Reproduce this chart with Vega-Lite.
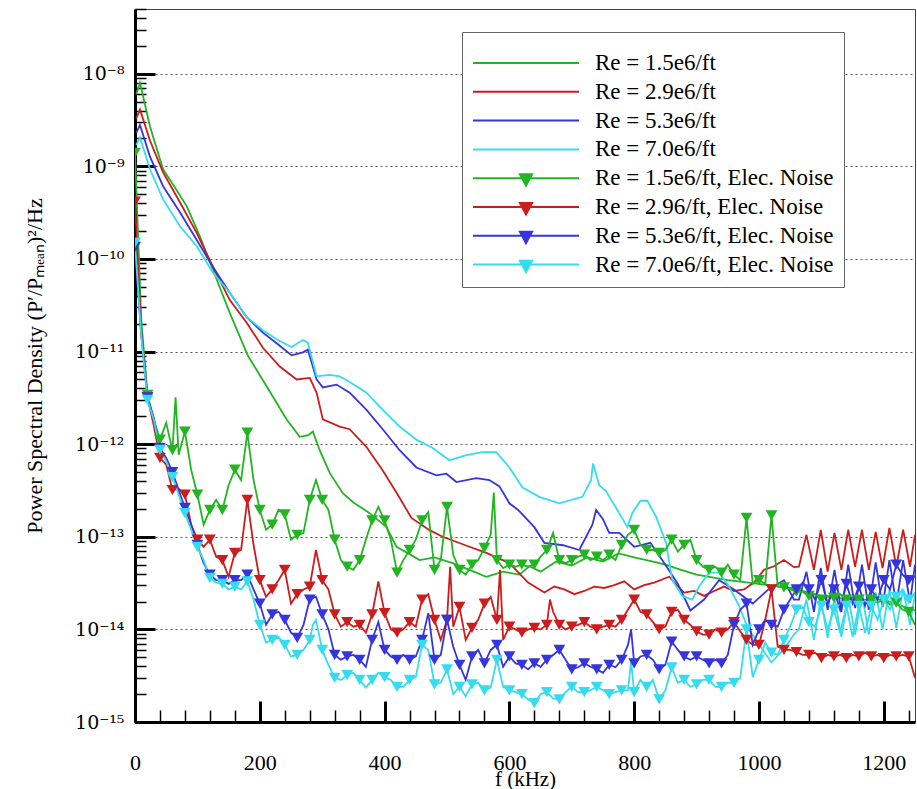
{
"$schema":"https://vega.github.io/schema/vega-lite/v6.json",
"width":780,"height":713,
"autosize":{"type":"none"},
"padding":{"left":135,"top":9,"right":2,"bottom":67},
"background":"white",
"config":{
 "font":"Liberation Serif",
 "view":{"stroke":"#444","strokeWidth":1},
 "axis":{"labelFont":"Liberation Serif","titleFont":"Liberation Serif","labelFontSize":22,"titleFontSize":22,"labelColor":"black","titleColor":"black","titleFontWeight":"normal","domainColor":"black","domainWidth":3,"tickColor":"black"}
},
"datasets":{
"sig":[
{"k":"G","f":2,"p":6e-9},{"k":"G","f":8,"p":8e-9},{"k":"G","f":24,"p":2.7e-9},{"k":"G","f":45,"p":9.3e-10},{"k":"G","f":64,"p":5.9e-10},{"k":"G","f":83,"p":3.7e-10},{"k":"G","f":104,"p":1.75e-10},{"k":"G","f":125,"p":7.6e-11},{"k":"G","f":152,"p":2.6e-11},{"k":"G","f":181,"p":9e-12},{"k":"G","f":216,"p":3.7e-12},{"k":"G","f":243,"p":1.85e-12},{"k":"G","f":264,"p":1.2e-12},{"k":"G","f":278,"p":1.25e-12},{"k":"G","f":285,"p":1.37e-12},{"k":"G","f":296,"p":8.6e-13},{"k":"G","f":312,"p":4.9e-13},{"k":"G","f":333,"p":2.95e-13},{"k":"G","f":350,"p":2.35e-13},{"k":"G","f":376,"p":1.8e-13},{"k":"G","f":403,"p":1.27e-13},{"k":"G","f":419,"p":7.8e-14},{"k":"G","f":440,"p":6.5e-14},{"k":"G","f":456,"p":5.6e-14},{"k":"G","f":480,"p":6e-14},{"k":"G","f":509,"p":5.2e-14},{"k":"G","f":536,"p":4.4e-14},{"k":"G","f":563,"p":3.7e-14},{"k":"G","f":590,"p":4.2e-14},{"k":"G","f":616,"p":3.9e-14},{"k":"G","f":632,"p":4.8e-14},{"k":"G","f":650,"p":4.2e-14},{"k":"G","f":675,"p":5.4e-14},{"k":"G","f":700,"p":4.9e-14},{"k":"G","f":725,"p":6e-14},{"k":"G","f":750,"p":5.4e-14},{"k":"G","f":775,"p":6.6e-14},{"k":"G","f":800,"p":6e-14},{"k":"G","f":825,"p":5.5e-14},{"k":"G","f":850,"p":5e-14},{"k":"G","f":875,"p":4.4e-14},{"k":"G","f":900,"p":3.9e-14},{"k":"G","f":950,"p":3.4e-14},{"k":"G","f":1000,"p":3.1e-14},{"k":"G","f":1050,"p":2.8e-14},{"k":"G","f":1100,"p":2.3e-14},{"k":"G","f":1150,"p":2.1e-14},{"k":"G","f":1200,"p":2.1e-14},{"k":"G","f":1250,"p":1.6e-14},
{"k":"R","f":2,"p":3.3e-9},{"k":"R","f":8,"p":4.1e-9},{"k":"R","f":24,"p":1.9e-9},{"k":"R","f":45,"p":8.6e-10},{"k":"R","f":72,"p":4.1e-10},{"k":"R","f":99,"p":1.9e-10},{"k":"R","f":125,"p":8.2e-11},{"k":"R","f":152,"p":3.6e-11},{"k":"R","f":179,"p":2.05e-11},{"k":"R","f":205,"p":1.1e-11},{"k":"R","f":232,"p":6.9e-12},{"k":"R","f":259,"p":5e-12},{"k":"R","f":280,"p":5.2e-12},{"k":"R","f":291,"p":3.6e-12},{"k":"R","f":301,"p":1.85e-12},{"k":"R","f":328,"p":1.55e-12},{"k":"R","f":344,"p":1.45e-12},{"k":"R","f":371,"p":9.3e-13},{"k":"R","f":397,"p":5.2e-13},{"k":"R","f":419,"p":3e-13},{"k":"R","f":443,"p":1.6e-13},{"k":"R","f":472,"p":1.18e-13},{"k":"R","f":493,"p":1e-13},{"k":"R","f":536,"p":7.8e-14},{"k":"R","f":563,"p":6.7e-14},{"k":"R","f":600,"p":5.2e-14},{"k":"R","f":630,"p":3.2e-14},{"k":"R","f":656,"p":2.5e-14},{"k":"R","f":672,"p":2.9e-14},{"k":"R","f":688,"p":2.7e-14},{"k":"R","f":704,"p":2.4e-14},{"k":"R","f":720,"p":2.6e-14},{"k":"R","f":736,"p":2.9e-14},{"k":"R","f":752,"p":2.8e-14},{"k":"R","f":768,"p":3e-14},{"k":"R","f":784,"p":3.3e-14},{"k":"R","f":800,"p":2.7e-14},{"k":"R","f":816,"p":3e-14},{"k":"R","f":832,"p":3.2e-14},{"k":"R","f":856,"p":3.7e-14},{"k":"R","f":868,"p":3e-14},{"k":"R","f":880,"p":2.5e-14},{"k":"R","f":896,"p":2.6e-14},{"k":"R","f":912,"p":2.3e-14},{"k":"R","f":928,"p":2.6e-14},{"k":"R","f":944,"p":2.9e-14},{"k":"R","f":960,"p":2.6e-14},{"k":"R","f":976,"p":2.7e-14},{"k":"R","f":992,"p":3.2e-14},{"k":"R","f":1008,"p":4.4e-14},{"k":"R","f":1024,"p":4.8e-14},{"k":"R","f":1040,"p":5.6e-14},{"k":"R","f":1056,"p":4.7e-14},{"k":"R","f":1064,"p":4.75e-14},{"k":"R","f":1076,"p":1.05e-13},{"k":"R","f":1088,"p":4.4e-14},{"k":"R","f":1099,"p":1.19e-13},{"k":"R","f":1110,"p":4.2e-14},{"k":"R","f":1121,"p":1.1e-13},{"k":"R","f":1132,"p":4.4e-14},{"k":"R","f":1143,"p":1.19e-13},{"k":"R","f":1154,"p":4.75e-14},{"k":"R","f":1165,"p":1.19e-13},{"k":"R","f":1176,"p":4.4e-14},{"k":"R","f":1187,"p":1.13e-13},{"k":"R","f":1198,"p":4.6e-14},{"k":"R","f":1209,"p":1.25e-13},{"k":"R","f":1220,"p":4.75e-14},{"k":"R","f":1231,"p":1.19e-13},{"k":"R","f":1242,"p":4.75e-14},{"k":"R","f":1250,"p":1.05e-13},
{"k":"B","f":2,"p":2.3e-9},{"k":"B","f":8,"p":2.8e-9},{"k":"B","f":24,"p":1.27e-9},{"k":"B","f":45,"p":6.1e-10},{"k":"B","f":72,"p":3.2e-10},{"k":"B","f":99,"p":1.6e-10},{"k":"B","f":125,"p":8.2e-11},{"k":"B","f":152,"p":4.3e-11},{"k":"B","f":179,"p":2.35e-11},{"k":"B","f":205,"p":1.6e-11},{"k":"B","f":229,"p":1.2e-11},{"k":"B","f":251,"p":9.1e-12},{"k":"B","f":269,"p":9.8e-12},{"k":"B","f":277,"p":1.05e-11},{"k":"B","f":291,"p":5e-12},{"k":"B","f":301,"p":4.1e-12},{"k":"B","f":323,"p":4.4e-12},{"k":"B","f":344,"p":3.6e-12},{"k":"B","f":371,"p":2.35e-12},{"k":"B","f":397,"p":1.45e-12},{"k":"B","f":424,"p":8.6e-13},{"k":"B","f":451,"p":5.6e-13},{"k":"B","f":483,"p":4.6e-13},{"k":"B","f":499,"p":4.8e-13},{"k":"B","f":515,"p":3.9e-13},{"k":"B","f":547,"p":4.3e-13},{"k":"B","f":568,"p":4.1e-13},{"k":"B","f":584,"p":3.5e-13},{"k":"B","f":600,"p":2.3e-13},{"k":"B","f":614,"p":1.95e-13},{"k":"B","f":640,"p":1.27e-13},{"k":"B","f":656,"p":8.6e-14},{"k":"B","f":686,"p":8.1e-14},{"k":"B","f":712,"p":7.2e-14},{"k":"B","f":733,"p":1.35e-13},{"k":"B","f":739,"p":1.95e-13},{"k":"B","f":750,"p":1.55e-13},{"k":"B","f":760,"p":1.1e-13},{"k":"B","f":776,"p":1.1e-13},{"k":"B","f":800,"p":7.8e-14},{"k":"B","f":826,"p":8.6e-14},{"k":"B","f":850,"p":5e-14},{"k":"B","f":870,"p":3.1e-14},{"k":"B","f":890,"p":1.6e-14},{"k":"B","f":912,"p":2.1e-14},{"k":"B","f":936,"p":3.4e-14},{"k":"B","f":960,"p":2.7e-14},{"k":"B","f":990,"p":1.9e-14},{"k":"B","f":1015,"p":2.7e-14},{"k":"B","f":1040,"p":3.4e-14},{"k":"B","f":1056,"p":2.1e-14},{"k":"B","f":1064,"p":2.1e-14},{"k":"B","f":1076,"p":4.2e-14},{"k":"B","f":1088,"p":1.55e-14},{"k":"B","f":1099,"p":4.6e-14},{"k":"B","f":1110,"p":1.63e-14},{"k":"B","f":1121,"p":4.4e-14},{"k":"B","f":1132,"p":1.55e-14},{"k":"B","f":1143,"p":5e-14},{"k":"B","f":1154,"p":1.7e-14},{"k":"B","f":1165,"p":5e-14},{"k":"B","f":1176,"p":1.63e-14},{"k":"B","f":1187,"p":5.3e-14},{"k":"B","f":1198,"p":1.75e-14},{"k":"B","f":1209,"p":5.6e-14},{"k":"B","f":1220,"p":1.85e-14},{"k":"B","f":1231,"p":5.6e-14},{"k":"B","f":1242,"p":1.95e-14},{"k":"B","f":1250,"p":5e-14},
{"k":"C","f":2,"p":1.7e-9},{"k":"C","f":8,"p":2.05e-9},{"k":"C","f":24,"p":9.3e-10},{"k":"C","f":45,"p":4.4e-10},{"k":"C","f":72,"p":2.25e-10},{"k":"C","f":99,"p":1.37e-10},{"k":"C","f":125,"p":7.1e-11},{"k":"C","f":152,"p":4.3e-11},{"k":"C","f":179,"p":2.35e-11},{"k":"C","f":205,"p":1.7e-11},{"k":"C","f":229,"p":1.33e-11},{"k":"C","f":251,"p":1.12e-11},{"k":"C","f":269,"p":1.33e-11},{"k":"C","f":277,"p":1.25e-11},{"k":"C","f":291,"p":5.4e-12},{"k":"C","f":312,"p":5.6e-12},{"k":"C","f":328,"p":5.4e-12},{"k":"C","f":344,"p":4.7e-12},{"k":"C","f":371,"p":3.6e-12},{"k":"C","f":397,"p":2.35e-12},{"k":"C","f":424,"p":1.55e-12},{"k":"C","f":451,"p":1.12e-12},{"k":"C","f":477,"p":9.1e-13},{"k":"C","f":504,"p":6.7e-13},{"k":"C","f":531,"p":7.6e-13},{"k":"C","f":557,"p":8.2e-13},{"k":"C","f":579,"p":8.2e-13},{"k":"C","f":600,"p":5.6e-13},{"k":"C","f":621,"p":3.4e-13},{"k":"C","f":648,"p":2.7e-13},{"k":"C","f":680,"p":2.3e-13},{"k":"C","f":717,"p":2.7e-13},{"k":"C","f":731,"p":4.1e-13},{"k":"C","f":734,"p":6.2e-13},{"k":"C","f":744,"p":3.6e-13},{"k":"C","f":755,"p":3.1e-13},{"k":"C","f":776,"p":1.8e-13},{"k":"C","f":789,"p":1.27e-13},{"k":"C","f":797,"p":1.8e-13},{"k":"C","f":810,"p":2.45e-13},{"k":"C","f":821,"p":2.45e-13},{"k":"C","f":835,"p":1.65e-13},{"k":"C","f":851,"p":8.6e-14},{"k":"C","f":861,"p":3.4e-14},{"k":"C","f":877,"p":2.3e-14},{"k":"C","f":893,"p":2.1e-14},{"k":"C","f":904,"p":2.9e-14},{"k":"C","f":920,"p":4.1e-14},{"k":"C","f":936,"p":4.1e-14},{"k":"C","f":952,"p":2.9e-14},{"k":"C","f":968,"p":1.8e-14},{"k":"C","f":981,"p":1.07e-14},{"k":"C","f":1000,"p":6.9e-15},{"k":"C","f":1020,"p":4.4e-15},{"k":"C","f":1040,"p":6.1e-15},{"k":"C","f":1056,"p":8.8e-15},{"k":"C","f":1064,"p":1e-14},{"k":"C","f":1076,"p":2.1e-14},{"k":"C","f":1088,"p":7.7e-15},{"k":"C","f":1099,"p":2.1e-14},{"k":"C","f":1110,"p":8.1e-15},{"k":"C","f":1121,"p":2.2e-14},{"k":"C","f":1132,"p":8.3e-15},{"k":"C","f":1143,"p":2.25e-14},{"k":"C","f":1154,"p":8.8e-15},{"k":"C","f":1165,"p":2.4e-14},{"k":"C","f":1176,"p":8.8e-15},{"k":"C","f":1187,"p":2.5e-14},{"k":"C","f":1198,"p":1e-14},{"k":"C","f":1209,"p":2.7e-14},{"k":"C","f":1220,"p":1.04e-14},{"k":"C","f":1231,"p":2.7e-14},{"k":"C","f":1242,"p":1.12e-14},{"k":"C","f":1250,"p":2.4e-14}
],
"noise":[
{"k":"GN","f":0,"p":1.4e-9},{"k":"GN","f":10,"p":2.2e-11},{"k":"GN","f":20,"p":3.4e-12},{"k":"GN","f":30,"p":1.85e-12},{"k":"GN","f":40,"p":1.12e-12},{"k":"GN","f":50,"p":1.7e-12},{"k":"GN","f":60,"p":8.6e-13},{"k":"GN","f":65,"p":3.2e-12},{"k":"GN","f":70,"p":7.7e-13},{"k":"GN","f":80,"p":1.37e-12},{"k":"GN","f":90,"p":5.3e-13},{"k":"GN","f":100,"p":2.85e-13},{"k":"GN","f":110,"p":1.35e-13},{"k":"GN","f":120,"p":1.95e-13},{"k":"GN","f":130,"p":2.5e-13},{"k":"GN","f":140,"p":1.95e-13},{"k":"GN","f":150,"p":3.6e-13},{"k":"GN","f":160,"p":5.3e-13},{"k":"GN","f":170,"p":4.1e-13},{"k":"GN","f":180,"p":1.33e-12},{"k":"GN","f":190,"p":4.1e-13},{"k":"GN","f":200,"p":1.95e-13},{"k":"GN","f":210,"p":1.19e-13},{"k":"GN","f":220,"p":1.35e-13},{"k":"GN","f":230,"p":1.95e-13},{"k":"GN","f":240,"p":1.75e-13},{"k":"GN","f":250,"p":9.3e-14},{"k":"GN","f":260,"p":1.05e-13},{"k":"GN","f":270,"p":1.1e-13},{"k":"GN","f":280,"p":2.5e-13},{"k":"GN","f":290,"p":4.1e-13},{"k":"GN","f":300,"p":2.5e-13},{"k":"GN","f":310,"p":1.95e-13},{"k":"GN","f":320,"p":9.3e-14},{"k":"GN","f":330,"p":5.6e-14},{"k":"GN","f":340,"p":4.75e-14},{"k":"GN","f":350,"p":4.4e-14},{"k":"GN","f":360,"p":5.6e-14},{"k":"GN","f":370,"p":9.3e-14},{"k":"GN","f":380,"p":1.5e-13},{"k":"GN","f":390,"p":2.1e-13},{"k":"GN","f":400,"p":1.5e-13},{"k":"GN","f":410,"p":9.3e-14},{"k":"GN","f":420,"p":4.1e-14},{"k":"GN","f":430,"p":5.6e-14},{"k":"GN","f":440,"p":7.2e-14},{"k":"GN","f":450,"p":9.3e-14},{"k":"GN","f":460,"p":1.5e-13},{"k":"GN","f":470,"p":1.85e-13},{"k":"GN","f":480,"p":4.4e-14},{"k":"GN","f":490,"p":5.6e-14},{"k":"GN","f":500,"p":2.1e-13},{"k":"GN","f":510,"p":6.4e-14},{"k":"GN","f":520,"p":4.4e-14},{"k":"GN","f":530,"p":3.9e-14},{"k":"GN","f":540,"p":5e-14},{"k":"GN","f":550,"p":5.6e-14},{"k":"GN","f":560,"p":7.6e-14},{"k":"GN","f":570,"p":1.05e-13},{"k":"GN","f":575,"p":3e-13},{"k":"GN","f":580,"p":5.6e-14},{"k":"GN","f":590,"p":4.6e-14},{"k":"GN","f":600,"p":5e-14},{"k":"GN","f":610,"p":4.75e-14},{"k":"GN","f":620,"p":5e-14},{"k":"GN","f":630,"p":4.75e-14},{"k":"GN","f":640,"p":5e-14},{"k":"GN","f":650,"p":6.1e-14},{"k":"GN","f":660,"p":7.2e-14},{"k":"GN","f":670,"p":1.1e-13},{"k":"GN","f":680,"p":5.6e-14},{"k":"GN","f":690,"p":5.2e-14},{"k":"GN","f":700,"p":5.6e-14},{"k":"GN","f":710,"p":6.1e-14},{"k":"GN","f":720,"p":6.4e-14},{"k":"GN","f":730,"p":5.6e-14},{"k":"GN","f":740,"p":6.1e-14},{"k":"GN","f":750,"p":5.6e-14},{"k":"GN","f":760,"p":6.4e-14},{"k":"GN","f":770,"p":5.6e-14},{"k":"GN","f":780,"p":8.2e-14},{"k":"GN","f":790,"p":1.05e-13},{"k":"GN","f":800,"p":1.19e-13},{"k":"GN","f":810,"p":8.2e-14},{"k":"GN","f":820,"p":7.2e-14},{"k":"GN","f":830,"p":7.2e-14},{"k":"GN","f":840,"p":6.7e-14},{"k":"GN","f":850,"p":7.2e-14},{"k":"GN","f":860,"p":9.3e-14},{"k":"GN","f":870,"p":6.9e-14},{"k":"GN","f":880,"p":8.2e-14},{"k":"GN","f":890,"p":9.3e-14},{"k":"GN","f":900,"p":5.6e-14},{"k":"GN","f":910,"p":4.75e-14},{"k":"GN","f":920,"p":4.4e-14},{"k":"GN","f":930,"p":4.75e-14},{"k":"GN","f":940,"p":4.1e-14},{"k":"GN","f":950,"p":5e-14},{"k":"GN","f":960,"p":3.9e-14},{"k":"GN","f":970,"p":3.4e-14},{"k":"GN","f":980,"p":1.6e-13},{"k":"GN","f":990,"p":3.1e-14},{"k":"GN","f":1000,"p":3.4e-14},{"k":"GN","f":1010,"p":3.1e-14},{"k":"GN","f":1020,"p":1.7e-13},{"k":"GN","f":1030,"p":2.9e-14},{"k":"GN","f":1040,"p":2.85e-14},{"k":"GN","f":1050,"p":2.7e-14},{"k":"GN","f":1060,"p":2.55e-14},{"k":"GN","f":1070,"p":2.55e-14},{"k":"GN","f":1080,"p":2.3e-14},{"k":"GN","f":1090,"p":2.4e-14},{"k":"GN","f":1100,"p":2.1e-14},{"k":"GN","f":1110,"p":2.3e-14},{"k":"GN","f":1120,"p":2.2e-14},{"k":"GN","f":1130,"p":2.4e-14},{"k":"GN","f":1140,"p":2.1e-14},{"k":"GN","f":1150,"p":2.2e-14},{"k":"GN","f":1160,"p":2.1e-14},{"k":"GN","f":1170,"p":1.95e-14},{"k":"GN","f":1180,"p":2.1e-14},{"k":"GN","f":1190,"p":1.95e-14},{"k":"GN","f":1200,"p":2.1e-14},{"k":"GN","f":1210,"p":1.85e-14},{"k":"GN","f":1220,"p":1.95e-14},{"k":"GN","f":1230,"p":1.63e-14},{"k":"GN","f":1240,"p":1.55e-14},{"k":"GN","f":1250,"p":1.12e-14},
{"k":"RN","f":0,"p":4.15e-10},{"k":"RN","f":10,"p":1.72e-11},{"k":"RN","f":20,"p":3.2e-12},{"k":"RN","f":30,"p":1.6e-12},{"k":"RN","f":40,"p":7.1e-13},{"k":"RN","f":50,"p":6e-13},{"k":"RN","f":60,"p":3.2e-13},{"k":"RN","f":70,"p":3.3e-13},{"k":"RN","f":80,"p":2.85e-13},{"k":"RN","f":90,"p":1.35e-13},{"k":"RN","f":100,"p":9.3e-14},{"k":"RN","f":110,"p":7.8e-14},{"k":"RN","f":120,"p":9.3e-14},{"k":"RN","f":130,"p":6.1e-14},{"k":"RN","f":140,"p":5.6e-14},{"k":"RN","f":150,"p":3.7e-14},{"k":"RN","f":160,"p":6.7e-14},{"k":"RN","f":170,"p":7.2e-14},{"k":"RN","f":180,"p":2.5e-13},{"k":"RN","f":190,"p":8.2e-14},{"k":"RN","f":200,"p":3.4e-14},{"k":"RN","f":210,"p":2.25e-14},{"k":"RN","f":220,"p":2.7e-14},{"k":"RN","f":230,"p":3.4e-14},{"k":"RN","f":240,"p":4.4e-14},{"k":"RN","f":250,"p":1.9e-14},{"k":"RN","f":260,"p":2.4e-14},{"k":"RN","f":270,"p":2.7e-14},{"k":"RN","f":280,"p":2.9e-14},{"k":"RN","f":290,"p":7.2e-14},{"k":"RN","f":300,"p":3.4e-14},{"k":"RN","f":310,"p":2.7e-14},{"k":"RN","f":320,"p":1.45e-14},{"k":"RN","f":330,"p":1.07e-14},{"k":"RN","f":340,"p":1.2e-14},{"k":"RN","f":350,"p":1.07e-14},{"k":"RN","f":360,"p":1.12e-14},{"k":"RN","f":370,"p":9.2e-15},{"k":"RN","f":380,"p":1.45e-14},{"k":"RN","f":390,"p":3.3e-14},{"k":"RN","f":400,"p":1.5e-14},{"k":"RN","f":410,"p":1e-14},{"k":"RN","f":420,"p":9.2e-15},{"k":"RN","f":430,"p":1e-14},{"k":"RN","f":440,"p":1.2e-14},{"k":"RN","f":450,"p":1.07e-14},{"k":"RN","f":460,"p":2.1e-14},{"k":"RN","f":470,"p":2.4e-14},{"k":"RN","f":480,"p":1.27e-14},{"k":"RN","f":490,"p":7.7e-15},{"k":"RN","f":500,"p":1.27e-14},{"k":"RN","f":505,"p":4.75e-14},{"k":"RN","f":510,"p":1.07e-14},{"k":"RN","f":520,"p":1.75e-14},{"k":"RN","f":530,"p":7.7e-15},{"k":"RN","f":540,"p":1.04e-14},{"k":"RN","f":550,"p":1.27e-14},{"k":"RN","f":560,"p":1.9e-14},{"k":"RN","f":570,"p":2.25e-14},{"k":"RN","f":580,"p":1.27e-14},{"k":"RN","f":585,"p":4.4e-14},{"k":"RN","f":590,"p":7.7e-15},{"k":"RN","f":600,"p":1.07e-14},{"k":"RN","f":610,"p":1e-14},{"k":"RN","f":620,"p":9.2e-15},{"k":"RN","f":630,"p":1e-14},{"k":"RN","f":640,"p":1.04e-14},{"k":"RN","f":650,"p":1e-14},{"k":"RN","f":660,"p":1.12e-14},{"k":"RN","f":665,"p":2.1e-14},{"k":"RN","f":670,"p":1.55e-14},{"k":"RN","f":680,"p":1.12e-14},{"k":"RN","f":690,"p":1e-14},{"k":"RN","f":700,"p":1.07e-14},{"k":"RN","f":710,"p":1.12e-14},{"k":"RN","f":720,"p":1.2e-14},{"k":"RN","f":730,"p":1.07e-14},{"k":"RN","f":740,"p":1e-14},{"k":"RN","f":750,"p":1.07e-14},{"k":"RN","f":760,"p":1.12e-14},{"k":"RN","f":770,"p":1.07e-14},{"k":"RN","f":780,"p":1.27e-14},{"k":"RN","f":790,"p":1.63e-14},{"k":"RN","f":800,"p":2.1e-14},{"k":"RN","f":810,"p":1.55e-14},{"k":"RN","f":820,"p":1.45e-14},{"k":"RN","f":830,"p":1.2e-14},{"k":"RN","f":840,"p":1e-14},{"k":"RN","f":850,"p":1.07e-14},{"k":"RN","f":860,"p":1.55e-14},{"k":"RN","f":870,"p":1.63e-14},{"k":"RN","f":880,"p":1.27e-14},{"k":"RN","f":890,"p":1.12e-14},{"k":"RN","f":900,"p":9.5e-15},{"k":"RN","f":910,"p":8.8e-15},{"k":"RN","f":920,"p":8.8e-15},{"k":"RN","f":930,"p":1e-14},{"k":"RN","f":940,"p":9.2e-15},{"k":"RN","f":950,"p":1e-14},{"k":"RN","f":960,"p":1.2e-14},{"k":"RN","f":970,"p":9.5e-15},{"k":"RN","f":980,"p":7.7e-15},{"k":"RN","f":990,"p":6.8e-15},{"k":"RN","f":1000,"p":6.8e-15},{"k":"RN","f":1010,"p":1.27e-14},{"k":"RN","f":1020,"p":2.7e-14},{"k":"RN","f":1030,"p":6.5e-15},{"k":"RN","f":1040,"p":6e-15},{"k":"RN","f":1050,"p":6e-15},{"k":"RN","f":1060,"p":5.7e-15},{"k":"RN","f":1070,"p":5.3e-15},{"k":"RN","f":1080,"p":5.3e-15},{"k":"RN","f":1090,"p":5.6e-15},{"k":"RN","f":1100,"p":4.9e-15},{"k":"RN","f":1110,"p":5.3e-15},{"k":"RN","f":1120,"p":5.1e-15},{"k":"RN","f":1130,"p":5.3e-15},{"k":"RN","f":1140,"p":4.9e-15},{"k":"RN","f":1150,"p":5.3e-15},{"k":"RN","f":1160,"p":5.1e-15},{"k":"RN","f":1170,"p":5.6e-15},{"k":"RN","f":1180,"p":5.1e-15},{"k":"RN","f":1190,"p":5.3e-15},{"k":"RN","f":1200,"p":4.9e-15},{"k":"RN","f":1210,"p":5.3e-15},{"k":"RN","f":1220,"p":5.1e-15},{"k":"RN","f":1230,"p":5.3e-15},{"k":"RN","f":1240,"p":5.1e-15},{"k":"RN","f":1250,"p":3e-15},
{"k":"BN","f":0,"p":1.35e-10},{"k":"BN","f":10,"p":1.5e-11},{"k":"BN","f":20,"p":3.2e-12},{"k":"BN","f":30,"p":1.94e-12},{"k":"BN","f":40,"p":9.1e-13},{"k":"BN","f":50,"p":7.1e-13},{"k":"BN","f":60,"p":5e-13},{"k":"BN","f":70,"p":3.2e-13},{"k":"BN","f":80,"p":2.05e-13},{"k":"BN","f":90,"p":1.35e-13},{"k":"BN","f":100,"p":8.2e-14},{"k":"BN","f":110,"p":5.2e-14},{"k":"BN","f":120,"p":3.9e-14},{"k":"BN","f":130,"p":3.4e-14},{"k":"BN","f":140,"p":3.4e-14},{"k":"BN","f":150,"p":3.1e-14},{"k":"BN","f":160,"p":3.4e-14},{"k":"BN","f":170,"p":3.4e-14},{"k":"BN","f":180,"p":3.9e-14},{"k":"BN","f":190,"p":2.7e-14},{"k":"BN","f":200,"p":1.9e-14},{"k":"BN","f":210,"p":1.12e-14},{"k":"BN","f":220,"p":1.45e-14},{"k":"BN","f":230,"p":1.55e-14},{"k":"BN","f":240,"p":1.27e-14},{"k":"BN","f":250,"p":9.2e-15},{"k":"BN","f":260,"p":8.1e-15},{"k":"BN","f":270,"p":1.12e-14},{"k":"BN","f":280,"p":2.1e-14},{"k":"BN","f":290,"p":2.25e-14},{"k":"BN","f":300,"p":1.45e-14},{"k":"BN","f":310,"p":1e-14},{"k":"BN","f":320,"p":5.3e-15},{"k":"BN","f":330,"p":4.7e-15},{"k":"BN","f":340,"p":5.1e-15},{"k":"BN","f":350,"p":5.3e-15},{"k":"BN","f":360,"p":4.7e-15},{"k":"BN","f":370,"p":3.95e-15},{"k":"BN","f":380,"p":7.7e-15},{"k":"BN","f":390,"p":1.2e-14},{"k":"BN","f":400,"p":6e-15},{"k":"BN","f":410,"p":5.1e-15},{"k":"BN","f":420,"p":4.7e-15},{"k":"BN","f":430,"p":5.3e-15},{"k":"BN","f":440,"p":4.7e-15},{"k":"BN","f":450,"p":5.1e-15},{"k":"BN","f":460,"p":7.7e-15},{"k":"BN","f":470,"p":1.5e-14},{"k":"BN","f":480,"p":4.7e-15},{"k":"BN","f":490,"p":5.3e-15},{"k":"BN","f":500,"p":1.27e-14},{"k":"BN","f":510,"p":6.5e-15},{"k":"BN","f":520,"p":4.15e-15},{"k":"BN","f":530,"p":2.85e-15},{"k":"BN","f":540,"p":5.1e-15},{"k":"BN","f":550,"p":6e-15},{"k":"BN","f":560,"p":4.3e-15},{"k":"BN","f":570,"p":6e-15},{"k":"BN","f":580,"p":6.8e-15},{"k":"BN","f":590,"p":3.95e-15},{"k":"BN","f":600,"p":5.1e-15},{"k":"BN","f":610,"p":4.3e-15},{"k":"BN","f":620,"p":4.15e-15},{"k":"BN","f":630,"p":3.7e-15},{"k":"BN","f":640,"p":4.3e-15},{"k":"BN","f":650,"p":3.95e-15},{"k":"BN","f":660,"p":4.7e-15},{"k":"BN","f":670,"p":5.3e-15},{"k":"BN","f":680,"p":6e-15},{"k":"BN","f":690,"p":4.7e-15},{"k":"BN","f":700,"p":3.7e-15},{"k":"BN","f":710,"p":3.9e-15},{"k":"BN","f":720,"p":4.3e-15},{"k":"BN","f":730,"p":3.95e-15},{"k":"BN","f":740,"p":3.7e-15},{"k":"BN","f":750,"p":3.4e-15},{"k":"BN","f":760,"p":4.15e-15},{"k":"BN","f":770,"p":3.9e-15},{"k":"BN","f":780,"p":4.7e-15},{"k":"BN","f":790,"p":6.8e-15},{"k":"BN","f":795,"p":1e-14},{"k":"BN","f":800,"p":4.3e-15},{"k":"BN","f":810,"p":5.1e-15},{"k":"BN","f":820,"p":5.3e-15},{"k":"BN","f":830,"p":4.7e-15},{"k":"BN","f":840,"p":3.7e-15},{"k":"BN","f":850,"p":4.15e-15},{"k":"BN","f":860,"p":7.4e-15},{"k":"BN","f":870,"p":6e-15},{"k":"BN","f":880,"p":5.1e-15},{"k":"BN","f":890,"p":4.7e-15},{"k":"BN","f":900,"p":5.1e-15},{"k":"BN","f":910,"p":4.7e-15},{"k":"BN","f":920,"p":4.3e-15},{"k":"BN","f":930,"p":4.7e-15},{"k":"BN","f":940,"p":4.3e-15},{"k":"BN","f":950,"p":5.3e-15},{"k":"BN","f":960,"p":1.12e-14},{"k":"BN","f":970,"p":1.63e-14},{"k":"BN","f":980,"p":1.9e-14},{"k":"BN","f":990,"p":6.8e-15},{"k":"BN","f":1000,"p":1e-14},{"k":"BN","f":1010,"p":1.27e-14},{"k":"BN","f":1020,"p":1.12e-14},{"k":"BN","f":1030,"p":1.07e-14},{"k":"BN","f":1040,"p":1.63e-14},{"k":"BN","f":1050,"p":2.1e-14},{"k":"BN","f":1060,"p":2.7e-14},{"k":"BN","f":1070,"p":3.2e-14},{"k":"BN","f":1080,"p":2.7e-14},{"k":"BN","f":1090,"p":2.1e-14},{"k":"BN","f":1100,"p":3.4e-14},{"k":"BN","f":1110,"p":1.9e-14},{"k":"BN","f":1120,"p":2.7e-14},{"k":"BN","f":1130,"p":1.63e-14},{"k":"BN","f":1140,"p":3.1e-14},{"k":"BN","f":1150,"p":1.9e-14},{"k":"BN","f":1160,"p":2.9e-14},{"k":"BN","f":1170,"p":1.8e-14},{"k":"BN","f":1180,"p":2.7e-14},{"k":"BN","f":1190,"p":2.1e-14},{"k":"BN","f":1200,"p":3.4e-14},{"k":"BN","f":1210,"p":2.7e-14},{"k":"BN","f":1220,"p":5e-14},{"k":"BN","f":1230,"p":3.9e-14},{"k":"BN","f":1240,"p":3.4e-14},{"k":"BN","f":1250,"p":3.7e-14},
{"k":"CN","f":0,"p":1.5e-10},{"k":"CN","f":10,"p":1.5e-11},{"k":"CN","f":20,"p":3e-12},{"k":"CN","f":30,"p":1.85e-12},{"k":"CN","f":40,"p":8.7e-13},{"k":"CN","f":50,"p":6.5e-13},{"k":"CN","f":60,"p":4.4e-13},{"k":"CN","f":70,"p":2.85e-13},{"k":"CN","f":80,"p":1.8e-13},{"k":"CN","f":90,"p":1.19e-13},{"k":"CN","f":100,"p":7.8e-14},{"k":"CN","f":110,"p":5.6e-14},{"k":"CN","f":120,"p":3.6e-14},{"k":"CN","f":130,"p":3.2e-14},{"k":"CN","f":140,"p":3.1e-14},{"k":"CN","f":150,"p":2.7e-14},{"k":"CN","f":160,"p":2.9e-14},{"k":"CN","f":170,"p":2.7e-14},{"k":"CN","f":180,"p":3.3e-14},{"k":"CN","f":190,"p":2.1e-14},{"k":"CN","f":200,"p":1.12e-14},{"k":"CN","f":210,"p":7.2e-15},{"k":"CN","f":220,"p":7.7e-15},{"k":"CN","f":230,"p":8.3e-15},{"k":"CN","f":240,"p":6.8e-15},{"k":"CN","f":250,"p":5.1e-15},{"k":"CN","f":260,"p":5.3e-15},{"k":"CN","f":270,"p":6e-15},{"k":"CN","f":280,"p":7.7e-15},{"k":"CN","f":285,"p":1.12e-14},{"k":"CN","f":290,"p":1.27e-14},{"k":"CN","f":300,"p":6e-15},{"k":"CN","f":310,"p":4.15e-15},{"k":"CN","f":320,"p":3e-15},{"k":"CN","f":330,"p":2.85e-15},{"k":"CN","f":340,"p":3.2e-15},{"k":"CN","f":350,"p":3.4e-15},{"k":"CN","f":360,"p":2.85e-15},{"k":"CN","f":370,"p":2.35e-15},{"k":"CN","f":380,"p":2.85e-15},{"k":"CN","f":390,"p":3.4e-15},{"k":"CN","f":400,"p":3.05e-15},{"k":"CN","f":410,"p":2.85e-15},{"k":"CN","f":420,"p":2.4e-15},{"k":"CN","f":430,"p":2.4e-15},{"k":"CN","f":440,"p":2.85e-15},{"k":"CN","f":450,"p":3.05e-15},{"k":"CN","f":460,"p":6.8e-15},{"k":"CN","f":470,"p":6e-15},{"k":"CN","f":480,"p":2.55e-15},{"k":"CN","f":490,"p":2.65e-15},{"k":"CN","f":500,"p":3.7e-15},{"k":"CN","f":510,"p":2e-15},{"k":"CN","f":520,"p":2.4e-15},{"k":"CN","f":530,"p":1.9e-15},{"k":"CN","f":540,"p":2.55e-15},{"k":"CN","f":550,"p":2.65e-15},{"k":"CN","f":560,"p":2.2e-15},{"k":"CN","f":570,"p":2.35e-15},{"k":"CN","f":580,"p":4.7e-15},{"k":"CN","f":590,"p":2.4e-15},{"k":"CN","f":600,"p":2.2e-15},{"k":"CN","f":610,"p":2.1e-15},{"k":"CN","f":620,"p":2e-15},{"k":"CN","f":630,"p":1.75e-15},{"k":"CN","f":640,"p":1.6e-15},{"k":"CN","f":650,"p":2e-15},{"k":"CN","f":660,"p":2.1e-15},{"k":"CN","f":670,"p":1.8e-15},{"k":"CN","f":680,"p":1.75e-15},{"k":"CN","f":690,"p":2.1e-15},{"k":"CN","f":700,"p":2.4e-15},{"k":"CN","f":710,"p":2.1e-15},{"k":"CN","f":720,"p":2.1e-15},{"k":"CN","f":730,"p":2.2e-15},{"k":"CN","f":740,"p":2.4e-15},{"k":"CN","f":750,"p":2.2e-15},{"k":"CN","f":760,"p":2e-15},{"k":"CN","f":770,"p":2.1e-15},{"k":"CN","f":780,"p":2.2e-15},{"k":"CN","f":790,"p":2.2e-15},{"k":"CN","f":795,"p":4.5e-15},{"k":"CN","f":800,"p":2.1e-15},{"k":"CN","f":810,"p":2.85e-15},{"k":"CN","f":820,"p":2.4e-15},{"k":"CN","f":830,"p":2.85e-15},{"k":"CN","f":840,"p":1.75e-15},{"k":"CN","f":850,"p":2.2e-15},{"k":"CN","f":860,"p":3.9e-15},{"k":"CN","f":870,"p":2.65e-15},{"k":"CN","f":880,"p":2.85e-15},{"k":"CN","f":890,"p":2.4e-15},{"k":"CN","f":900,"p":2.55e-15},{"k":"CN","f":910,"p":2.85e-15},{"k":"CN","f":920,"p":2.85e-15},{"k":"CN","f":930,"p":2.4e-15},{"k":"CN","f":940,"p":2.4e-15},{"k":"CN","f":950,"p":2.65e-15},{"k":"CN","f":960,"p":2.65e-15},{"k":"CN","f":970,"p":3e-15},{"k":"CN","f":980,"p":1e-14},{"k":"CN","f":990,"p":3.05e-15},{"k":"CN","f":1000,"p":4.7e-15},{"k":"CN","f":1010,"p":7.2e-15},{"k":"CN","f":1020,"p":5.6e-15},{"k":"CN","f":1030,"p":5.3e-15},{"k":"CN","f":1040,"p":7.7e-15},{"k":"CN","f":1050,"p":1.07e-14},{"k":"CN","f":1060,"p":1.63e-14},{"k":"CN","f":1070,"p":1.75e-14},{"k":"CN","f":1080,"p":1.2e-14},{"k":"CN","f":1090,"p":1.07e-14},{"k":"CN","f":1100,"p":1.8e-14},{"k":"CN","f":1110,"p":1e-14},{"k":"CN","f":1120,"p":1.63e-14},{"k":"CN","f":1130,"p":9.2e-15},{"k":"CN","f":1140,"p":1.8e-14},{"k":"CN","f":1150,"p":8.3e-15},{"k":"CN","f":1160,"p":1.8e-14},{"k":"CN","f":1170,"p":9.2e-15},{"k":"CN","f":1180,"p":1.8e-14},{"k":"CN","f":1190,"p":1.27e-14},{"k":"CN","f":1200,"p":2.1e-14},{"k":"CN","f":1210,"p":1.63e-14},{"k":"CN","f":1220,"p":2.25e-14},{"k":"CN","f":1230,"p":2.7e-14},{"k":"CN","f":1240,"p":2.1e-14},{"k":"CN","f":1250,"p":2.5e-14}
]
},
"encoding":{
 "x":{"field":"f","type":"quantitative","title":"f (kHz)",
  "scale":{"domain":[0,1250],"nice":false,"zero":false},
  "axis":{"values":[0,40,80,120,160,200,240,280,320,360,400,440,480,520,560,600,640,680,720,760,800,840,880,920,960,1000,1040,1080,1120,1160,1200,1240],
   "format":"d","labelExpr":"datum.value % 200 == 0 ? datum.label : ''","labelFlush":false,"labelOverlap":false,
   "labelFontSize":{"condition":{"test":"datum.value % 200 == 0","value":22},"value":1},
   "tickSize":{"condition":{"test":"datum.value % 200 == 0","value":-21},"value":-12},
   "tickWidth":{"condition":{"test":"datum.value % 200 == 0","value":3},"value":1.5},
   "labelPadding":51,"labelBaseline":"top","grid":false,"titleY":63,"titleBaseline":"alphabetic","titleFontSize":21}},
 "y":{"field":"p","type":"quantitative","title":"Power Spectral Density (P′/Pₘₑₐₙ)²/Hz",
  "scale":{"type":"log","domain":[1e-15,5e-8],"nice":false},
  "axis":{"values":[1e-15,2e-15,3e-15,4e-15,5e-15,6e-15,7e-15,8e-15,9e-15,1e-14,2e-14,3e-14,4e-14,5e-14,6e-14,7e-14,8e-14,9e-14,1e-13,2e-13,3e-13,4e-13,5e-13,6e-13,7e-13,8e-13,9e-13,1e-12,2e-12,3e-12,4e-12,5e-12,6e-12,7e-12,8e-12,9e-12,1e-11,2e-11,3e-11,4e-11,5e-11,6e-11,7e-11,8e-11,9e-11,1e-10,2e-10,3e-10,4e-10,5e-10,6e-10,7e-10,8e-10,9e-10,1e-9,2e-9,3e-9,4e-9,5e-9,6e-9,7e-9,8e-9,9e-9,1e-8,2e-8,3e-8,4e-8,5e-8],
   "labelExpr":"datum.value==1e-8?'10⁻⁸':datum.value==1e-9?'10⁻⁹':datum.value==1e-10?'10⁻¹⁰':datum.value==1e-11?'10⁻¹¹':datum.value==1e-12?'10⁻¹²':datum.value==1e-13?'10⁻¹³':datum.value==1e-14?'10⁻¹⁴':datum.value==1e-15?'10⁻¹⁵':''",
   "labelFont":"DejaVu Serif","labelFontSize":19,
   "labelOverlap":false,"labelFlush":false,"labelPadding":31,"titlePadding":28,
   "tickSize":{"condition":{"test":"indexof([1e-15,1e-14,1e-13,1e-12,1e-11,1e-10,1e-9,1e-8], datum.value) >= 0","value":-20},"value":-11},
   "tickWidth":{"condition":{"test":"indexof([1e-15,1e-14,1e-13,1e-12,1e-11,1e-10,1e-9,1e-8], datum.value) >= 0","value":3},"value":1.5},
   "grid":true,"gridDash":[2,3],"gridColor":"#555","gridWidth":1,
   "gridOpacity":{"condition":{"test":"indexof([1e-14,1e-13,1e-12,1e-11,1e-10,1e-9,1e-8], datum.value) >= 0","value":1},"value":0}}},
 "color":{"field":"k","type":"nominal",
  "scale":{"domain":["G","R","B","C","GN","RN","BN","CN"],"range":["#22b522","#cc1c1c","#3535dd","#35dcee","#22b522","#cc1c1c","#3535dd","#35dcee"]},
  "legend":{"orient":"none","legendX":327,"legendY":23,"title":" ","titleFontSize":8,"titlePadding":2,
   "symbolSize":11236,"symbolStrokeWidth":2,"symbolType":"stroke","clipHeight":22,"rowPadding":5.8,
   "labelFont":"Liberation Serif","labelFontSize":23,"labelColor":"black","labelOffset":15,"labelLimit":400,
   "strokeColor":"#666","fillColor":"white","padding":10,
   "labelExpr":"datum.value=='G'?'Re = 1.5e6/ft':datum.value=='R'?'Re = 2.9e6/ft':datum.value=='B'?'Re = 5.3e6/ft':datum.value=='C'?'Re = 7.0e6/ft':datum.value=='GN'?'Re = 1.5e6/ft, Elec. Noise':datum.value=='RN'?'Re = 2.96/ft, Elec. Noise':datum.value=='BN'?'Re = 5.3e6/ft, Elec. Noise':'Re = 7.0e6/ft, Elec. Noise'",
   "encode":{"symbols":{"update":{
     "shape":{"signal":"indexof(datum.value,'N')>0 ? 'M-1,0L1,0M-0.115,-0.075L0.115,-0.075L0,0.14Z' : 'M-1,0L1,0'"},
     "fill":{"signal":"indexof(datum.value,'N')>0 ? scale('color', datum.value) : 'transparent'"},
     "stroke":{"signal":"scale('color', datum.value)"},
     "strokeWidth":{"value":2},"opacity":{"value":1},"size":{"value":11236}}}}}}
},
"layer":[
 {"data":{"name":"sig"},"mark":{"type":"line","strokeWidth":1.8,"clip":true}},
 {"data":{"name":"noise"},"mark":{"type":"line","strokeWidth":1.8,"clip":true}},
 {"data":{"name":"noise"},"transform":[{"filter":"datum.f % 20 == 0"}],"mark":{"type":"point","shape":"triangle-down","filled":true,"size":140,"opacity":1,"clip":true}}
]
}
